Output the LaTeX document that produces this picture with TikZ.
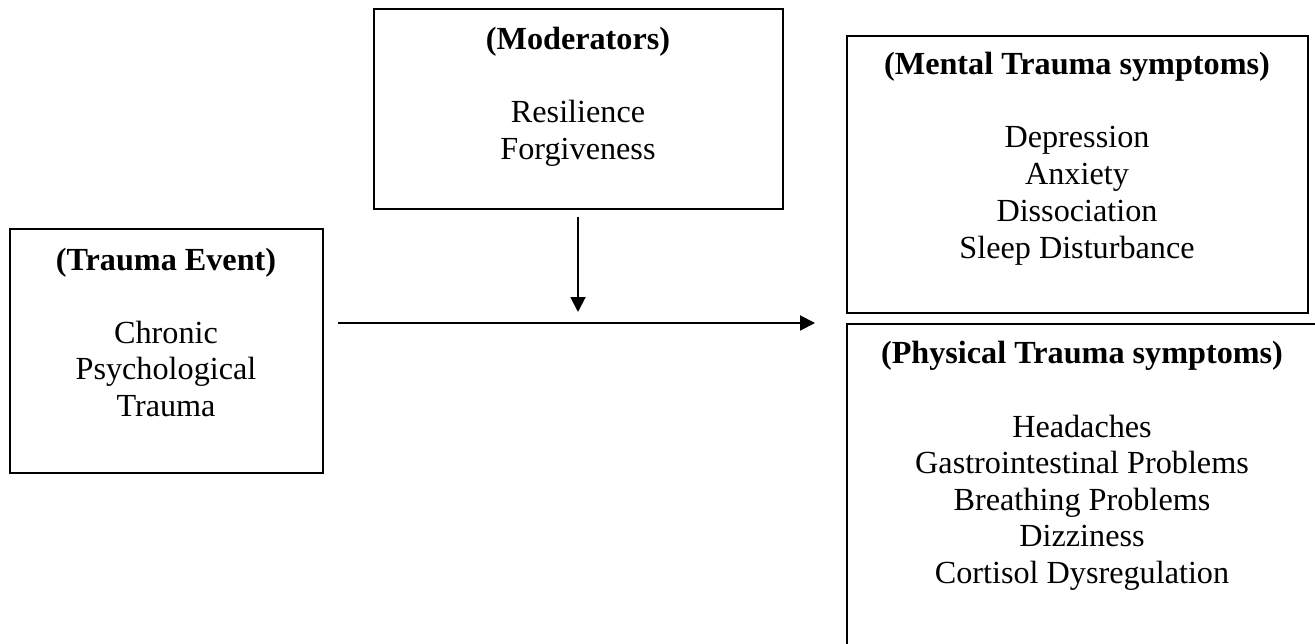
\documentclass[tikz,border=0pt]{standalone}
\usepackage{fontspec}
\setmainfont{Liberation Serif}
\usetikzlibrary{arrows.meta}
\begin{document}
\begin{tikzpicture}[x=1bp,y=-1bp,
  boxshape/.style={draw=black,line width=1.9bp,rectangle,inner sep=0,outer sep=0,anchor=north west},
  txt/.style={anchor=base,inner sep=0,outer sep=0,font=\fontsize{32.2bp}{36.7bp}\selectfont},
  ttl/.style={txt,font=\fontsize{32.2bp}{36.7bp}\selectfont\bfseries},
  conn/.style={line width=1.9bp,-{Triangle[length=15bp,width=15bp]}}]
\clip (0,0) rectangle (1315,644);
\fill[white] (0,0) rectangle (1315,644);
% boxes
\node[boxshape,minimum width=313bp,minimum height=244bp] (event) at (10,229) {};
\node[boxshape,minimum width=409bp,minimum height=200bp] (moder) at (374,9) {};
\node[boxshape,minimum width=461bp,minimum height=277bp] (mental) at (847,36) {};
\node[boxshape,minimum width=470bp,minimum height=340bp] (physical) at (847,324) {};
% texts
\node[ttl] (eventT) at (166,270) {(Trauma Event)};
\foreach \t [count=\i] in {Chronic,Psychological,Trauma}
  \node[txt,name=event\i] at (166,{343+36.6*(\i-1)}) {\t};
\node[ttl] (moderT) at (578,50) {(Moderators)};
\foreach \t [count=\i] in {Resilience,Forgiveness}
  \node[txt,name=moder\i] at (578,{123+36.6*(\i-1)}) {\t};
\node[ttl] (mentalT) at (1077,75) {(Mental Trauma symptoms)};
\foreach \t [count=\i] in {Depression,Anxiety,Dissociation,Sleep Disturbance}
  \node[txt,name=mental\i] at (1077,{148+36.9*(\i-1)}) {\t};
\node[ttl] (physicalT) at (1082,363) {(Physical Trauma symptoms)};
\foreach \t [count=\i] in {Headaches,Gastrointestinal Problems,Breathing Problems,Dizziness,Cortisol Dysregulation}
  \node[txt,name=physical\i] at (1082,{437+36.6*(\i-1)}) {\t};
% connectors
\coordinate (hstart) at (338,323);
\coordinate (hend) at (815,323);
\coordinate (vstart) at (578,217);
\coordinate (vend) at (578,312);
\draw[conn] (hstart) -- (hend);
\draw[conn] (vstart) -- (vend);
\end{tikzpicture}
\end{document}
